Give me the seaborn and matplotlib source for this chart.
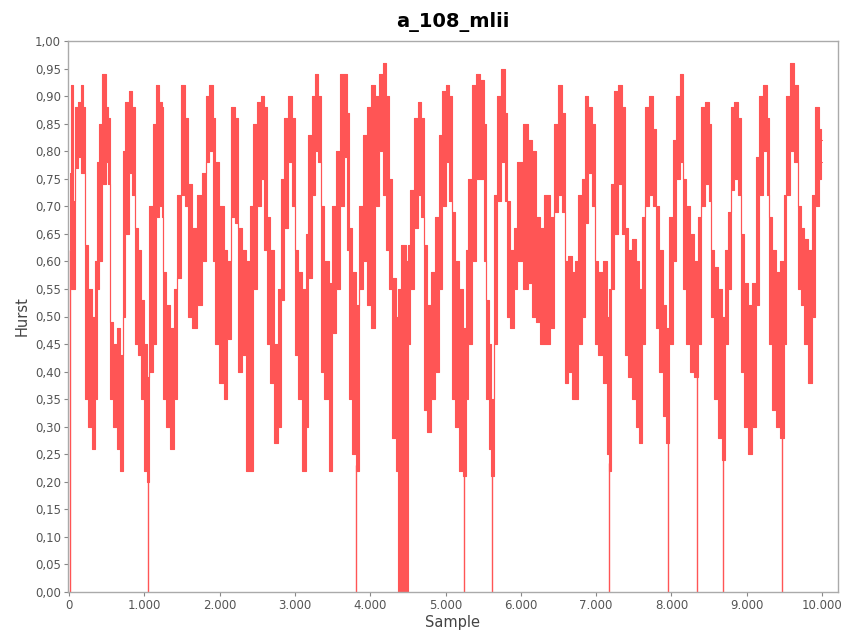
import matplotlib
matplotlib.use("Agg")
import numpy as np
import pandas as pd
import seaborn as sns
import matplotlib.pyplot as plt
from matplotlib.ticker import FuncFormatter

# Hurst exponent over the record: lower / upper envelope of the estimate
sample = [13, 40, 66, 93, 146, 173, 212, 226, 279, 332, 359, 385, 425, 465, 505, 544,
          558, 611, 664, 704, 730, 770, 823, 863, 890, 943, 983, 1022, 1049, 1089, 1142,
          1182, 1222, 1248, 1262, 1315, 1368, 1421, 1461, 1514, 1567, 1594, 1673, 1740,
          1793, 1833, 1886, 1926, 1952, 2032, 2085, 2125, 2178, 2231, 2258, 2324, 2390,
          2430, 2470, 2523, 2576, 2616, 2643, 2696, 2749, 2789, 2829, 2882, 2935, 2988,
          3015, 3068, 3121, 3161, 3200, 3254, 3293, 3333, 3360, 3426, 3479, 3519, 3572,
          3625, 3679, 3705, 3732, 3785, 3825, 3878, 3931, 3984, 4037, 4090, 4143, 4196,
          4236, 4276, 4316, 4369, 4382, 4449, 4502, 4515, 4555, 4608, 4661, 4701, 4728,
          4781, 4834, 4887, 4940, 4980, 5033, 5073, 5100, 5153, 5206, 5246, 5285, 5325,
          5378, 5432, 5485, 5525, 5551, 5591, 5618, 5657, 5710, 5764, 5803, 5830, 5883,
          5923, 5989, 6056, 6122, 6188, 6228, 6281, 6348, 6414, 6467, 6520, 6574, 6600,
          6653, 6706, 6746, 6786, 6826, 6866, 6919, 6972, 6999, 7052, 7118, 7158, 7185,
          7211, 7264, 7317, 7370, 7397, 7450, 7503, 7556, 7596, 7623, 7676, 7729, 7782,
          7808, 7861, 7914, 7954, 7994, 8047, 8087, 8140, 8167, 8220, 8273, 8327, 8366,
          8419, 8473, 8512, 8539, 8592, 8645, 8685, 8725, 8765, 8805, 8858, 8911, 8937,
          8990, 9044, 9097, 9137, 9190, 9243, 9283, 9309, 9362, 9416, 9469, 9508, 9548,
          9601, 9655, 9695, 9734, 9787, 9841, 9880, 9934, 9973, 10000]

hurst_lo = [0.62, 0.55, 0.55, 0.77, 0.79, 0.76, 0.76, 0.35, 0.30, 0.26, 0.35, 0.55, 0.60,
            0.74, 0.78, 0.74, 0.35, 0.30, 0.26, 0.22, 0.50, 0.65, 0.76, 0.72, 0.45, 0.43,
            0.35, 0.22, 0.20, 0.40, 0.45, 0.68, 0.70, 0.68, 0.35, 0.30, 0.26, 0.35, 0.57,
            0.72, 0.70, 0.50, 0.48, 0.52, 0.60, 0.78, 0.80, 0.60, 0.45, 0.38, 0.35, 0.46,
            0.68, 0.67, 0.40, 0.43, 0.22, 0.22, 0.55, 0.70, 0.75, 0.62, 0.45, 0.38, 0.27,
            0.30, 0.53, 0.66, 0.78, 0.70, 0.43, 0.35, 0.22, 0.30, 0.57, 0.72, 0.80, 0.78,
            0.40, 0.35, 0.22, 0.47, 0.55, 0.70, 0.79, 0.62, 0.35, 0.25, 0.22, 0.55, 0.60,
            0.52, 0.48, 0.70, 0.80, 0.72, 0.62, 0.55, 0.28, 0.22, 0.00, 0.00, 0.00, 0.45,
            0.55, 0.66, 0.72, 0.68, 0.33, 0.29, 0.35, 0.40, 0.55, 0.70, 0.78, 0.71, 0.35,
            0.30, 0.22, 0.21, 0.35, 0.45, 0.60, 0.75, 0.75, 0.60, 0.35, 0.26, 0.21, 0.45,
            0.71, 0.78, 0.71, 0.50, 0.48, 0.55, 0.60, 0.55, 0.56, 0.50, 0.49, 0.45, 0.45,
            0.48, 0.69, 0.72, 0.69, 0.38, 0.40, 0.35, 0.35, 0.45, 0.50, 0.67, 0.76, 0.70,
            0.45, 0.43, 0.38, 0.25, 0.22, 0.55, 0.65, 0.74, 0.65, 0.43, 0.39, 0.35, 0.30,
            0.27, 0.45, 0.70, 0.72, 0.70, 0.48, 0.40, 0.32, 0.27, 0.45, 0.60, 0.75, 0.78,
            0.55, 0.45, 0.40, 0.39, 0.45, 0.70, 0.74, 0.71, 0.50, 0.35, 0.28, 0.24, 0.45,
            0.55, 0.73, 0.75, 0.72, 0.40, 0.30, 0.25, 0.30, 0.52, 0.72, 0.80, 0.72, 0.45,
            0.33, 0.30, 0.28, 0.45, 0.72, 0.80, 0.78, 0.55, 0.52, 0.45, 0.38, 0.50, 0.70,
            0.75, 0.78]

hurst_hi = [0.76, 0.92, 0.71, 0.88, 0.89, 0.92, 0.88, 0.63, 0.55, 0.50, 0.60, 0.78, 0.85,
            0.94, 0.88, 0.86, 0.49, 0.45, 0.48, 0.43, 0.80, 0.89, 0.91, 0.88, 0.66, 0.62,
            0.53, 0.45, 0.39, 0.70, 0.85, 0.92, 0.89, 0.88, 0.58, 0.52, 0.48, 0.55, 0.72,
            0.92, 0.86, 0.74, 0.66, 0.72, 0.76, 0.90, 0.92, 0.86, 0.78, 0.70, 0.62, 0.60,
            0.88, 0.86, 0.66, 0.62, 0.60, 0.70, 0.85, 0.89, 0.90, 0.88, 0.68, 0.62, 0.45,
            0.55, 0.75, 0.86, 0.90, 0.86, 0.62, 0.58, 0.55, 0.65, 0.83, 0.90, 0.94, 0.90,
            0.70, 0.60, 0.56, 0.70, 0.80, 0.94, 0.94, 0.87, 0.66, 0.58, 0.52, 0.70, 0.83,
            0.88, 0.92, 0.90, 0.94, 0.96, 0.90, 0.75, 0.57, 0.50, 0.55, 0.63, 0.60, 0.63,
            0.73, 0.86, 0.89, 0.86, 0.63, 0.52, 0.58, 0.68, 0.83, 0.91, 0.92, 0.90, 0.69,
            0.60, 0.55, 0.48, 0.62, 0.75, 0.92, 0.94, 0.93, 0.85, 0.53, 0.45, 0.35, 0.72,
            0.90, 0.95, 0.87, 0.71, 0.62, 0.66, 0.78, 0.85, 0.82, 0.80, 0.68, 0.66, 0.72,
            0.68, 0.85, 0.92, 0.87, 0.60, 0.61, 0.58, 0.60, 0.72, 0.75, 0.90, 0.88, 0.85,
            0.60, 0.58, 0.60, 0.50, 0.55, 0.74, 0.91, 0.92, 0.88, 0.66, 0.62, 0.64, 0.60,
            0.55, 0.68, 0.88, 0.90, 0.84, 0.70, 0.62, 0.52, 0.48, 0.68, 0.82, 0.90, 0.94,
            0.75, 0.70, 0.65, 0.60, 0.68, 0.88, 0.89, 0.85, 0.62, 0.59, 0.55, 0.50, 0.62,
            0.69, 0.88, 0.89, 0.86, 0.65, 0.56, 0.52, 0.56, 0.79, 0.90, 0.92, 0.86, 0.68,
            0.62, 0.58, 0.60, 0.72, 0.90, 0.96, 0.92, 0.70, 0.66, 0.64, 0.62, 0.72, 0.88,
            0.84, 0.82]

# isolated samples where the estimate collapses to zero
drop_sample = [13, 1049, 3810, 5246, 5618, 7172, 7954, 8333, 8680, 9469]
drop_value = [0.0, 0.0, 0.0, 0.0, 0.0, 0.0, 0.0, 0.0, 0.0, 0.0]

x_ticks = list(range(0, 10001, 1000))
y_ticks = [round(0.05 * i, 2) for i in range(21)]

RED = "#FF5555"
GREY = "#555555"

sns.set_theme(style="white")
plt.rcParams["font.family"] = ["DejaVu Sans"]

df = pd.DataFrame({"Sample": sample, "lo": hurst_lo, "hi": hurst_hi})

fig = plt.figure(figsize=(8.45, 6.42), dpi=100)
ax = fig.add_axes([68 / 845, 1 - 592 / 642, (838 - 68) / 845, (592 - 41) / 642])

# the dense trace fills the band between its envelopes; consecutive blocks join with vertical strokes
ax.fill_between(df["Sample"], df["lo"], df["hi"], step="mid", color=RED, linewidth=0)
sns.lineplot(data=df, x="Sample", y="hi", color=RED, linewidth=0.8,
             drawstyle="steps-mid", ax=ax)
sns.lineplot(data=df, x="Sample", y="lo", color=RED, linewidth=0.8,
             drawstyle="steps-mid", ax=ax)

drop_top = np.interp(drop_sample, df["Sample"], df["lo"])
ax.vlines(drop_sample, drop_value, drop_top, color=RED, linewidth=1.0)

ax.set_xlim(-13, 10212)
ax.set_ylim(0, 1.0)
ax.set_xticks(x_ticks)
ax.set_yticks(y_ticks)
ax.xaxis.set_major_formatter(FuncFormatter(lambda v, p: f"{int(v):,}".replace(",", ".")))
ax.yaxis.set_major_formatter(FuncFormatter(lambda v, p: f"{v:.2f}".replace(".", ",")))

ax.tick_params(axis="both", which="major", direction="out", length=3, width=0.8,
               colors="#888888", labelcolor=GREY, labelsize=8.5, pad=2)
ax.tick_params(bottom=True, left=True)
for sp in ax.spines.values():
    sp.set_color("#AAAAAA")
    sp.set_linewidth(1.0)
ax.grid(False)

ax.set_xlabel("Sample", fontsize=10.5, color="#444444", labelpad=2)
ax.set_ylabel("Hurst", fontsize=10.5, color="#444444", labelpad=4)
ax.set_title("a_108_mlii", fontsize=14, fontweight="bold", color="black", pad=10)

fig.savefig("out.png", dpi=100)
